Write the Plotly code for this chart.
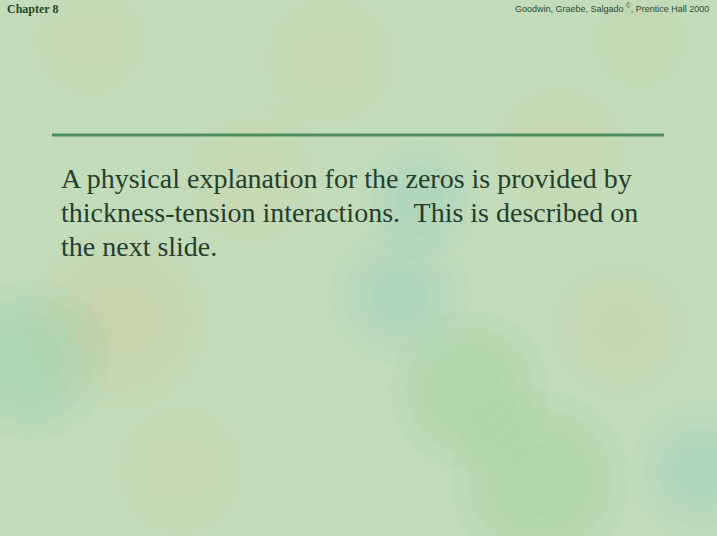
import plotly.graph_objects as go

# Texte de la diapositive
entete_gauche = "Chapter 8"
entete_droite = "Goodwin, Graebe, Salgado <sup>©</sup>, Prentice Hall 2000"
lignes = [
    "A physical explanation for the zeros is provided by",
    "thickness-tension interactions.  This is described on",
    "the next slide.",
]

# Taches de couleur du fond (x, y en pixels, rayon, couleur RGB)
taches_x = [120, 400, 470, 250, 620, 30, 540, 330, 700, 180, 560, 420, 90, 640]
taches_y = [320, 295, 390, 180, 330, 360, 480, 60, 470, 470, 150, 200, 40, 40]
taches_r = [90, 70, 80, 80, 70, 80, 90, 80, 70, 80, 80, 60, 70, 60]
taches_c = ["220,190,145", "135,205,205", "135,205,145", "222,215,160",
            "222,208,160", "125,200,160", "135,200,145", "222,215,160",
            "135,205,210", "215,215,160", "212,215,165", "145,210,205",
            "215,220,165", "205,220,170"]

W, H = 717, 536

fig = go.Figure()

# Les taches, en cercles concentriques pour adoucir les bords
for x, y, r, c in zip(taches_x, taches_y, taches_r, taches_c):
    for k in [1.0, 0.8, 0.6, 0.4]:
        fig.add_shape(type="circle", xref="x", yref="y",
                      x0=x - r * k, x1=x + r * k, y0=y - r * k, y1=y + r * k,
                      fillcolor=f"rgba({c},0.08)", line=dict(width=0), layer="below")

# Le trait horizontal
fig.add_shape(type="line", xref="x", yref="y", x0=52, x1=664, y0=135, y1=135,
              line=dict(color="#4f8b5c", width=3))

# En-têtes
fig.add_annotation(x=5, y=9, xref="x", yref="y", text="<b>" + entete_gauche + "</b>",
                   showarrow=False, xanchor="left", yanchor="middle",
                   font=dict(family="Liberation Serif", size=12, color="#1e4a2c"))
fig.add_annotation(x=711, y=8, xref="x", yref="y", text=entete_droite,
                   showarrow=False, xanchor="right", yanchor="middle",
                   font=dict(family="Liberation Sans", size=9, color="#2a4a36"))

# Corps du texte
for i, ligne in enumerate(lignes):
    fig.add_annotation(x=59, y=178 + 34 * i, xref="x", yref="y", text=ligne,
                       showarrow=False, xanchor="left", yanchor="middle",
                       font=dict(family="Liberation Serif, Times New Roman, serif", size=28, color="#263e2e"))

fig.update_layout(
    width=W, height=H,
    margin=dict(l=0, r=0, t=0, b=0),
    paper_bgcolor="#c2dcba",
    plot_bgcolor="rgba(0,0,0,0)",
    xaxis=dict(range=[0, W], visible=False, fixedrange=True),
    yaxis=dict(range=[H, 0], visible=False, fixedrange=True),
    showlegend=False,
)

# On enlève la marge du body pour que la figure remplisse la fenêtre
fig.write_html("out.html", config={"displayModeBar": False},
               post_script="document.body.style.margin='0';document.body.style.overflow='hidden';")
